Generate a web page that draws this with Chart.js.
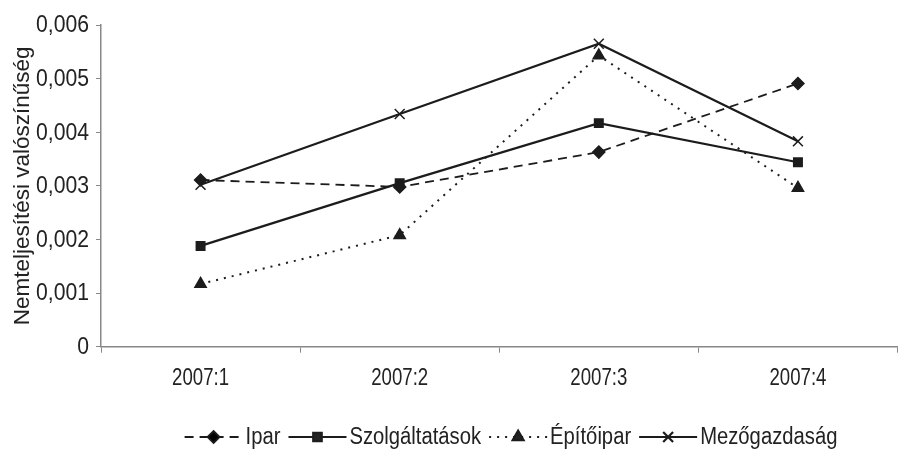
<!DOCTYPE html>
<html>
<head>
<meta charset="utf-8">
<script src="https://cdn.jsdelivr.net/npm/chart.js@4.4.1/dist/chart.umd.min.js"></script>
<style>
  html, body { margin: 0; padding: 0; background: #fff; overflow: hidden; }
  #wrap { width: 906px; height: 450px; position: relative; }
</style>
</head>
<body>
<div id="wrap"><canvas id="c" width="906" height="450"></canvas></div>
<script>
// Quarters of 2007
const quarters = ['2007:1', '2007:2', '2007:3', '2007:4'];

// Default probabilities by sector
const ipar = [0.00311, 0.00298, 0.00363, 0.00491];
const szolgaltatasok = [0.00188, 0.00305, 0.00417, 0.00344];
const epitoipar = [0.00117, 0.00208, 0.00543, 0.00296];
const mezogazdasag = [0.00302, 0.00434, 0.00565, 0.00383];

const yTicks = [0, 0.001, 0.002, 0.003, 0.004, 0.005, 0.006];

const ink = '#1c1c1c';
const textInk = '#222';
const regularFont = '"Liberation Sans", Arial, sans-serif';

const fmtY = v => v === 0 ? '0' : v.toFixed(3).replace('.', ',');

function series(label, data, dash, style, radius, width) {
  return {
    label, data,
    borderColor: ink, backgroundColor: ink,
    borderWidth: width, borderDash: dash,
    pointStyle: style, pointRadius: radius, pointHoverRadius: radius,
    pointBorderColor: ink, pointBackgroundColor: ink, pointBorderWidth: 1.5,
    tension: 0, fill: false
  };
}

const datasets = [
  series('Ipar', ipar, [9, 6], 'rectRot', 6, 1.8),
  series('Szolgáltatások', szolgaltatasok, [], 'rect', 6, 2.2),
  series('Építőipar', epitoipar, [2, 6], 'triangle', 6.5, 2),
  series('Mezőgazdaság', mezogazdasag, [], 'crossRot', 7, 2.2)
];

// Horizontally condensed text (narrow sans look)
function condensedText(ctx, text, x, y, sx, align) {
  ctx.save();
  ctx.translate(x, y);
  ctx.scale(sx, 1);
  ctx.textAlign = align;
  ctx.fillText(text, 0, 0);
  ctx.restore();
}

// Narrow tick labels placed at the scales' own tick positions
const narrowTicks = {
  id: 'narrowTicks',
  afterDraw(chart) {
    const ctx = chart.ctx;
    const xs = chart.scales.x, ys = chart.scales.y;
    ctx.save();
    ctx.fillStyle = textInk;
    ctx.font = '23px ' + regularFont;
    ctx.textBaseline = 'middle';
    xs.ticks.forEach((t, i) => {
      condensedText(ctx, quarters[i], xs.getPixelForTick(i), xs.top + 32, 0.81, 'center');
    });
    yTicks.forEach(v => {
      condensedText(ctx, fmtY(v), xs.left - 12, ys.getPixelForValue(v) + 1, 0.92, 'right');
    });
    ctx.restore();
  }
};

// Legend with a line sample and marker for each series, drawn below the axis
const lineLegend = {
  id: 'lineLegend',
  afterDraw(chart) {
    const ctx = chart.ctx;
    const y = 437;
    const sample = 58;
    const sx = 0.88;
    ctx.save();
    ctx.font = '23px ' + regularFont;
    ctx.textBaseline = 'middle';
    const gapText = 3, gapItem = 8;
    let total = 0;
    const widths = chart.data.datasets.map(ds => ctx.measureText(ds.label).width * sx);
    widths.forEach(w => { total += sample + gapText + w; });
    total += gapItem * (widths.length - 1);
    let x = 511 - total / 2;
    chart.data.datasets.forEach((ds, i) => {
      ctx.strokeStyle = ink;
      ctx.lineWidth = ds.borderWidth;
      ctx.setLineDash(ds.borderDash);
      ctx.beginPath();
      ctx.moveTo(x, y);
      ctx.lineTo(x + sample, y);
      ctx.stroke();
      ctx.setLineDash([]);
      Chart.helpers.drawPoint(ctx, {
        pointStyle: ds.pointStyle, radius: ds.pointRadius, borderWidth: 1.5, rotation: 0
      }, x + sample / 2, y);
      ctx.fillStyle = textInk;
      condensedText(ctx, ds.label, x + sample + gapText, y + 1, sx, 'left');
      x += sample + gapText + widths[i] + gapItem;
    });
    ctx.restore();
  }
};

new Chart(document.getElementById('c'), {
  type: 'line',
  data: { labels: quarters, datasets },
  options: {
    responsive: false,
    animation: false,
    layout: { padding: { top: 25, right: 0, left: 0, bottom: 0 } },
    plugins: { legend: { display: false }, tooltip: { enabled: false } },
    scales: {
      x: {
        offset: true,
        grid: { display: true, drawOnChartArea: false, drawTicks: true, tickLength: 6, color: '#888', offset: true },
        border: { color: '#888', width: 1.5 },
        ticks: { color: 'rgba(0,0,0,0)', font: { family: regularFont, size: 18 }, padding: 12, maxRotation: 0 },
        afterFit(scale) { scale.height = 103.3; }
      },
      y: {
        min: 0, max: 0.006,
        afterBuildTicks(scale) { scale.ticks = yTicks.map(v => ({ value: v })); },
        grid: { display: true, drawOnChartArea: false, drawTicks: true, tickLength: 5, color: '#888' },
        border: { color: '#888', width: 1.5 },
        ticks: { color: 'rgba(0,0,0,0)', font: { family: regularFont, size: 18 }, padding: 8, callback: fmtY },
        title: {
          display: true, text: 'Nemteljesítési valószínűség',
          color: textInk, font: { family: regularFont, size: 22.5 }, padding: { top: 9, bottom: 0 }
        },
        afterFit(scale) { scale.width = 101; }
      }
    }
  },
  plugins: [narrowTicks, lineLegend]
});
</script>
</body>
</html>
